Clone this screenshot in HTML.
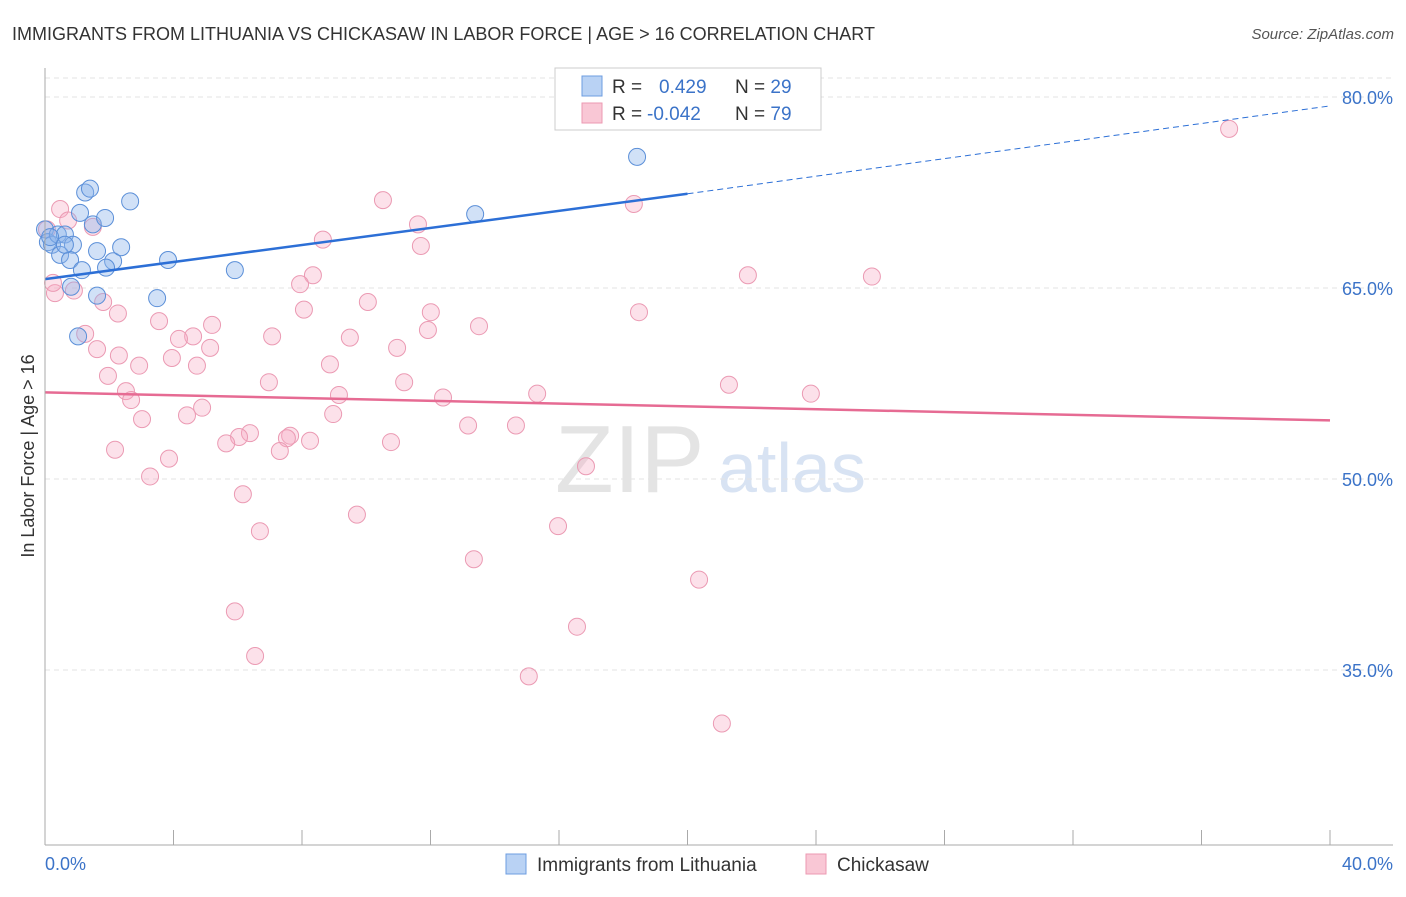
<!DOCTYPE html>
<html><head><meta charset="utf-8"><style>
body{margin:0;background:#fff;font-family:"Liberation Sans",sans-serif;}
svg text{font-family:"Liberation Sans",sans-serif;}
</style></head><body>
<svg id="c" width="1406" height="892">
<text x="12" y="40" font-size="18" fill="#333">IMMIGRANTS FROM LITHUANIA VS CHICKASAW IN LABOR FORCE | AGE &gt; 16 CORRELATION CHART</text>
<text x="1394" y="39" font-size="15" fill="#555" font-style="italic" text-anchor="end">Source: ZipAtlas.com</text>
<text x="34" y="456" font-size="18" fill="#333" text-anchor="middle" transform="rotate(-90 34 456)">In Labor Force | Age &gt; 16</text>
<text x="555" y="492" font-size="96" fill="#e4e4e4" font-family="Liberation Serif">ZIP</text>
<text x="718" y="492" font-size="70" fill="#d8e3f3">atlas</text>
<g id="grid"></g><g id="pts"></g><g id="lines"></g>
<line x1="45" y1="68" x2="45" y2="845" stroke="#aaa"/>
<line x1="45" y1="845" x2="1393" y2="845" stroke="#aaa"/>
<text x="45" y="870" font-size="18" fill="#3b73c8">0.0%</text>
<text x="1393" y="870" font-size="18" fill="#3b73c8" text-anchor="end">40.0%</text>
<g>
<rect x="555" y="68" width="266" height="62" fill="#fff" stroke="#ccc"/>
<rect x="582" y="76" width="20" height="20" fill="#b9d2f4" stroke="#6d9de0"/>
<rect x="582" y="103" width="20" height="20" fill="#f9c7d5" stroke="#ec9ab2"/>
<text x="612" y="93" font-size="19" fill="#333">R = <tspan fill="#3b73c8" x="659">0.429</tspan><tspan x="735" fill="#333">N = </tspan><tspan fill="#3b73c8">29</tspan></text>
<text x="612" y="120" font-size="19" fill="#333">R = <tspan fill="#3b73c8" x="647">-0.042</tspan><tspan x="735" fill="#333">N = </tspan><tspan fill="#3b73c8">79</tspan></text>
</g>
<g>
<rect x="506" y="854" width="20" height="20" fill="#b9d2f4" stroke="#6d9de0"/>
<text x="537" y="871" font-size="19" fill="#333">Immigrants from Lithuania</text>
<rect x="806" y="854" width="20" height="20" fill="#f9c7d5" stroke="#ec9ab2"/>
<text x="837" y="871" font-size="19" fill="#333">Chickasaw</text>
</g>
</svg>
<script>
const yTicks=[80,65,50,35];
const xTicksN=[0,4,8,12,16,20,24,28,32,36,40];
const blueX=[0,0.09,0.22,0.4,0.62,0.87,1.25,1.4,1.09,1.49,1.87,2.65,1.62,2.12,2.37,3.83,5.91,0.47,0.78,1.15,1.9,0.81,1.62,3.49,1.03,18.43,13.39,0.16,0.62];
const blueY=[69.6,68.6,68.4,69.2,69.2,68.4,72.5,72.8,70.9,70.0,70.5,71.8,67.9,67.1,68.2,67.2,66.4,67.6,67.2,66.4,66.6,65.1,64.4,64.2,61.2,75.3,70.8,69.0,68.4];
const pinkX=[36.86,18.33,10.52,11.61,11.7,8.65,8.34,7.94,21.88,25.74,18.49,10.05,8.06,12.01,11.92,13.51,3.55,5.2,4.61,4.17,5.14,7.07,9.49,10.96,1.25,2.27,1.81,0.9,0.31,0.25,1.62,2.3,2.93,3.95,4.73,8.87,1.96,6.97,11.18,21.29,23.84,2.52,2.68,9.15,12.39,15.32,4.89,4.42,3.02,8.97,13.17,14.66,6.38,6.04,5.64,7.63,7.53,8.25,10.77,7.31,2.18,3.86,3.27,16.84,6.16,9.71,15.97,6.69,13.35,20.36,5.91,16.56,6.54,15.06,21.07,1.49,0.47,0.72,0.06];
const pinkY=[77.5,71.6,71.9,70.0,68.3,68.8,66.0,65.3,66.0,65.9,63.1,63.9,63.3,63.1,61.7,62.0,62.4,62.1,61.2,61.0,60.3,61.2,61.1,60.3,61.4,63.0,63.9,64.8,64.6,65.4,60.2,59.7,58.9,59.5,58.9,59.0,58.1,57.6,57.6,57.4,56.7,56.9,56.2,56.6,56.4,56.7,55.6,55.0,54.7,55.1,54.2,54.2,53.6,53.3,52.8,53.4,53.2,53.0,52.9,52.2,52.3,51.6,50.2,51.0,48.8,47.2,46.3,45.9,43.7,42.1,39.6,38.4,36.1,34.5,30.8,69.8,71.2,70.3,69.6];
const blueTrend=[0,65.7,20,72.4,40,79.3];
const pinkTrend=[0,56.8,40,54.6];
const X=v=>45+v*32.125, Y=v=>97+(80-v)*12.733;
const NS="http://www.w3.org/2000/svg";
function mk(t,a,p){const e=document.createElementNS(NS,t);for(const k in a)e.setAttribute(k,a[k]);p.appendChild(e);return e;}
const grid=document.getElementById('grid');
mk('line',{x1:45,x2:1393,y1:78,y2:78,stroke:'#e3e3e3','stroke-dasharray':'5,4'},grid);
yTicks.forEach(t=>{
 const l=mk('line',{x1:45,x2:1393,y1:Y(t),y2:Y(t),stroke:'#e3e3e3','stroke-dasharray':'5,4'},grid);
 
 
 const tx=mk('text',{x:1393,y:Y(t)+7,'font-size':18,fill:'#3b73c8','text-anchor':'end'},grid);
 tx.textContent=t.toFixed(1)+'%';
 
 
});
xTicksN.forEach(t=>{
 const l=mk('line',{x1:X(t),x2:X(t),y1:830,y2:845,stroke:'#aaa'},grid);
 
 
});
const pts=document.getElementById('pts');
pinkX.forEach((x,i)=>{
 const c=mk('circle',{cx:X(x),cy:Y(pinkY[i]),r:8.5,fill:'rgba(245,170,195,0.35)',stroke:'#eb9ab3','stroke-width':1},pts);
 
 
});
blueX.forEach((x,i)=>{
 const c=mk('circle',{cx:X(x),cy:Y(blueY[i]),r:8.5,fill:'rgba(140,180,235,0.4)',stroke:'#5b8fd8','stroke-width':1},pts);
 
 
});
const ln=document.getElementById('lines');
const b1=mk('line',{x1:X(blueTrend[0]),y1:Y(blueTrend[1]),x2:X(blueTrend[2]),y2:Y(blueTrend[3]),stroke:'#2c6fd6','stroke-width':2.5},ln);


const b2=mk('line',{x1:X(blueTrend[2]),y1:Y(blueTrend[3]),x2:X(blueTrend[4]),y2:Y(blueTrend[5]),stroke:'#2c6fd6','stroke-width':1,'stroke-dasharray':'6,4'},ln);


const p1=mk('line',{x1:X(pinkTrend[0]),y1:Y(pinkTrend[1]),x2:X(pinkTrend[2]),y2:Y(pinkTrend[3]),stroke:'#e66b93','stroke-width':2.5},ln);


</script>
</body></html>
